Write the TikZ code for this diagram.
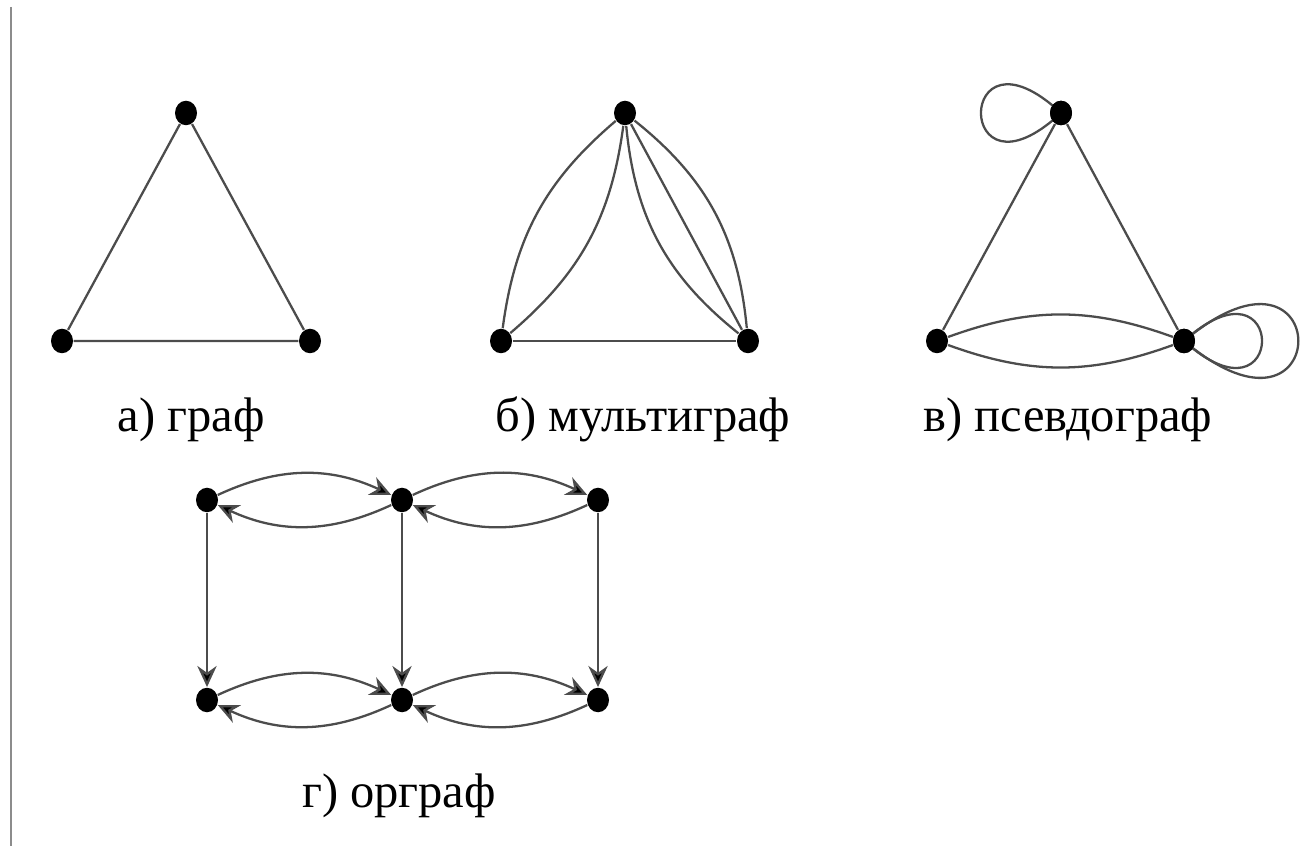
\documentclass[tikz,border=0pt]{standalone}
\usepackage{fontspec}
\setmainfont{Liberation Serif}
\usetikzlibrary{arrows.meta,shapes.geometric}
\tikzset{
  vtx/.style={ellipse,fill=black,draw=none,minimum width=0.22cm,minimum height=0.245cm,inner sep=0pt},
  edge/.style={draw=black!70,line width=0.65pt},
  arc/.style={edge,-{Stealth[length=6pt,width=5.5pt,fill=black]}},
  lbl/.style={anchor=base,font=\fontsize{13.8pt}{16pt}\selectfont,inner sep=0pt}
}
\begin{document}
\begin{tikzpicture}
\useasboundingbox (0,0) rectangle (13,8.46);
\draw[black!45,line width=0.6pt] (0.11,8.39) -- (0.11,0);
% a) graph
\node[vtx] (at) at (1.86,7.33) {};
\node[vtx] (al) at (0.62,5.05) {};
\node[vtx] (ar) at (3.10,5.05) {};
\draw[edge] (at) -- (al) -- (ar) -- (at);
\node[lbl] (la) at (1.91,4.14) {а) граф};
% b) multigraph
\node[vtx] (bt) at (6.25,7.33) {};
\node[vtx] (bl) at (5.01,5.05) {};
\node[vtx] (br) at (7.48,5.05) {};
\draw[edge] (bt) to[bend right=21] (bl);
\draw[edge] (bt) to[bend left=21] (bl);
\draw[edge] (bt) -- (br);
\draw[edge] (bt) to[bend right=23] (br);
\draw[edge] (bt) to[bend left=23] (br);
\draw[edge] (bl) -- (br);
\node[lbl] (lb) at (6.43,4.14) {б) мультиграф};
% c) pseudograph
\node[vtx] (ct) at (10.61,7.33) {};
\node[vtx] (cl) at (9.37,5.05) {};
\node[vtx] (cr) at (11.84,5.05) {};
\draw[edge] (ct) -- (cl);
\draw[edge] (ct) -- (cr);
\draw[edge] (cl) to[bend left=20] (cr);
\draw[edge] (cl) to[bend right=20] (cr);
\draw[edge] (ct.center) .. controls +(137:1.46) and +(223:1.46) .. (ct.center);
\draw[edge] (cr.center) .. controls +(40:1.99) and +(-40:1.99) .. (cr.center);
\draw[edge] (cr.center) .. controls +(42:1.4) and +(-42:1.4) .. (cr.center);
\node[vtx] at (ct) {};
\node[vtx] at (cr) {};
\node[lbl] (lc) at (10.68,4.14) {в) псевдограф};
% d) digraph
\node[vtx] (d1) at (2.07,3.46) {};
\node[vtx] (d2) at (4.02,3.46) {};
\node[vtx] (d3) at (5.98,3.46) {};
\node[vtx] (d4) at (2.07,1.46) {};
\node[vtx] (d5) at (4.02,1.46) {};
\node[vtx] (d6) at (5.98,1.46) {};
\draw[arc] (d1) to[bend left=25] (d2);
\draw[arc] (d2) to[bend left=25] (d1);
\draw[arc] (d2) to[bend left=25] (d3);
\draw[arc] (d3) to[bend left=25] (d2);
\draw[arc] (d4) to[bend left=25] (d5);
\draw[arc] (d5) to[bend left=25] (d4);
\draw[arc] (d5) to[bend left=25] (d6);
\draw[arc] (d6) to[bend left=25] (d5);
\draw[arc] (d1) -- (d4);
\draw[arc] (d2) -- (d5);
\draw[arc] (d3) -- (d6);
\node[lbl] (ld) at (3.99,0.39) {г) орграф};
\end{tikzpicture}
\end{document}
